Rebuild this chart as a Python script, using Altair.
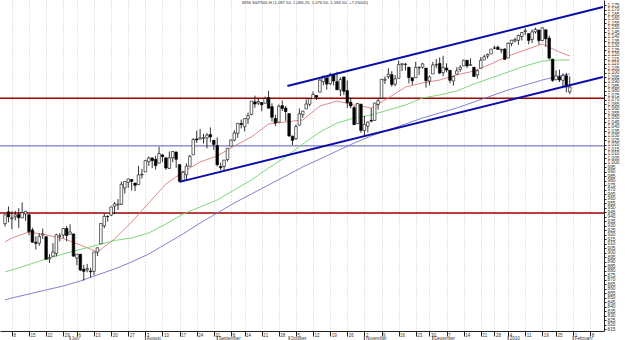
import json
import altair as alt
import pandas as pd

title_text = "MINI S&P500-H (1,087.50, 1,096.25, 1,076.50, 1,084.50, +7.25000)"

# daily candles, trading-day index -2 .. 163 (4 Jun 2009 .. 29 Jan 2010)
opens = [932.5, 945.7,
         938.1, 940.3, 942.7, 939.0, 943.4,
         942.5, 925.6, 911.9, 910.9, 920.0,
         918.1, 893.5, 896.3, 899.5, 918.8,
         919.9, 927.2, 920.8, 921.2,
         894.3, 898.6, 881.9, 881.3, 880.0,
         879.6, 900.8, 910.2, 930.2, 940.6,
         942.1, 952.0, 953.4, 954.1, 972.2,
         978.6, 981.5, 977.7, 976.0, 986.8,
         990.2, 1001.4, 1005.4, 1004.1, 999.8,
         1008.9, 1005.8, 994.0, 1005.9, 1012.2,
         998.2, 980.6, 986.9, 996.4, 1009.1,
         1026.6, 1026.6, 1027.4, 1027.8, 1031.6,
         1025.2, 1019.5, 996.1, 996.1, 1003.8,
         1018.7, 1025.4, 1033.0, 1043.9,
         1040.2, 1049.0, 1054.0, 1067.9, 1066.6,
         1067.1, 1066.4, 1072.7, 1062.6, 1049.5,
         1045.4, 1063.7, 1061.0, 1054.9, 1029.7,
         1026.9, 1042.0, 1053.7, 1060.0, 1065.3,
         1071.6, 1075.0, 1078.7, 1090.4, 1094.7,
         1088.2, 1098.6, 1090.4, 1081.0, 1095.6,
         1080.4, 1067.5, 1061.5, 1043.7, 1065.4,
         1036.2, 1040.9, 1047.3, 1047.3, 1065.0,
         1072.3, 1091.9, 1096.0, 1098.3, 1087.6,
         1094.1, 1109.2, 1109.4, 1106.4, 1094.7,
         1094.9, 1105.8, 1106.5, 1105.5,
         1091.1, 1098.9, 1109.0, 1110.6, 1100.4,
         1105.5, 1103.0, 1091.1, 1098.7, 1104.0,
         1107.8, 1114.1, 1108.6, 1106.4, 1097.9,
         1105.3, 1114.5, 1118.8, 1121.1,
         1127.5, 1128.6, 1125.5, 1126.6,
         1116.6, 1132.7, 1135.7, 1136.3, 1140.5,
         1146.0, 1143.8, 1137.3, 1145.7, 1147.7,
         1136.0, 1148.0, 1138.7, 1115.5,
         1092.4, 1095.8, 1091.9, 1096.9, 1079.0]
highs = [942.5, 951.7,
         946.3, 946.9, 949.8, 956.2, 946.3,
         942.5, 928.0, 918.4, 921.9, 927.1,
         918.1, 898.7, 910.9, 921.4, 922.0,
         928.0, 930.0, 931.9, 921.2,
         898.7, 898.6, 886.8, 887.9, 883.6,
         901.1, 905.8, 933.0, 944.0, 941.9,
         951.6, 956.5, 959.8, 979.4, 979.8,
         982.5, 982.3, 977.8, 996.7, 993.2,
         1003.6, 1007.1, 1006.6, 1008.0, 1018.0,
         1010.1, 1005.8, 1012.8, 1013.1, 1012.6,
         998.2, 991.2, 999.6, 1008.9, 1027.6,
         1035.8, 1037.8, 1032.5, 1033.3, 1039.5,
         1025.2, 1028.5, 1000.3, 1003.4, 1016.5,
         1026.1, 1036.3, 1044.1, 1048.2,
         1049.7, 1056.0, 1068.8, 1074.8, 1071.5,
         1067.3, 1073.8, 1080.2, 1066.3, 1053.5,
         1065.1, 1069.6, 1063.4, 1054.9, 1030.6,
         1042.6, 1060.6, 1058.0, 1070.7, 1071.5,
         1079.5, 1075.3, 1093.2, 1096.6, 1094.7,
         1100.2, 1098.6, 1101.4, 1095.2, 1095.8,
         1091.8, 1072.5, 1063.3, 1066.8, 1065.4,
         1052.2, 1046.4, 1061.0, 1066.7, 1071.5,
         1093.2, 1096.1, 1105.4, 1102.0, 1097.6,
         1113.7, 1110.5, 1111.1, 1106.4, 1094.7,
         1112.4, 1107.6, 1111.2, 1105.5,
         1097.2, 1112.3, 1115.6, 1117.3, 1119.1,
         1110.7, 1103.0, 1097.0, 1106.3, 1108.5,
         1114.8, 1114.1, 1116.2, 1106.4, 1103.7,
         1117.7, 1120.3, 1121.6, 1126.5,
         1130.4, 1130.4, 1126.4, 1127.6,
         1133.9, 1136.6, 1139.2, 1142.5, 1145.4,
         1149.7, 1143.8, 1148.4, 1150.4, 1147.8,
         1150.5, 1148.0, 1141.6, 1115.5,
         1103.0, 1103.7, 1099.5, 1100.2, 1096.25]
lows = [929.3, 934.1,
        926.4, 936.2, 927.9, 939.0, 935.7,
        919.7, 911.6, 903.8, 907.9, 915.8,
        893.0, 888.9, 896.3, 896.3, 913.0,
        916.2, 912.9, 920.8, 896.4,
        886.4, 879.9, 869.3, 878.5, 872.8,
        875.3, 896.5, 910.2, 927.5, 934.9,
        941.0, 943.2, 947.8, 953.3, 966.0,
        972.3, 969.4, 968.7, 976.0, 982.8,
        990.2, 996.7, 994.3, 992.5, 999.8,
        1001.0, 992.4, 993.4, 1000.8, 994.6,
        978.5, 980.6, 980.6, 996.4, 1009.1,
        1022.5, 1026.2, 1021.6, 1016.2, 1023.1,
        1014.6, 996.3, 992.0, 992.3, 1001.7,
        1018.7, 1024.0, 1028.0, 1038.4,
        1035.0, 1043.4, 1052.9, 1061.2, 1064.3,
        1057.5, 1066.4, 1060.4, 1045.9, 1041.2,
        1045.4, 1057.8, 1046.5, 1029.4, 1020.0,
        1025.9, 1042.0, 1050.1, 1060.0, 1063.0,
        1071.6, 1070.0, 1078.7, 1086.4, 1081.5,
        1086.5, 1086.2, 1080.8, 1074.3, 1075.5,
        1061.1, 1060.6, 1042.2, 1043.7, 1033.4,
        1029.4, 1033.9, 1045.2, 1047.3, 1059.3,
        1072.3, 1087.8, 1093.5, 1084.9, 1085.3,
        1094.1, 1102.2, 1102.7, 1088.4, 1086.8,
        1094.9, 1097.6, 1104.8, 1083.7,
        1086.3, 1098.9, 1105.3, 1098.7, 1096.5,
        1100.8, 1088.6, 1085.9, 1098.7, 1101.3,
        1107.8, 1105.4, 1108.0, 1095.9, 1093.9,
        1105.3, 1114.5, 1116.0, 1121.1,
        1126.5, 1126.1, 1121.9, 1114.8,
        1116.6, 1129.7, 1134.0, 1131.3, 1136.2,
        1142.0, 1131.8, 1133.2, 1143.8, 1131.4,
        1135.3, 1129.3, 1114.8, 1090.2,
        1092.4, 1089.9, 1083.1, 1078.5, 1076.5]
closes = [942.5, 940.1,
          939.1, 942.4, 939.1, 944.9, 946.2,
          923.7, 912.0, 910.7, 918.4, 921.2,
          893.0, 895.1, 900.9, 920.3, 918.9,
          927.2, 919.3, 923.3, 896.4,
          898.7, 881.0, 879.6, 882.7, 879.1,
          901.1, 905.8, 932.7, 940.7, 940.4,
          951.1, 954.6, 954.1, 976.3, 979.3,
          982.2, 979.6, 975.2, 986.8, 987.5,
          1002.6, 1005.7, 1002.7, 997.1, 1010.5,
          1007.1, 994.4, 1005.8, 1012.7, 1004.1,
          979.7, 989.7, 996.5, 1007.4, 1026.1,
          1025.6, 1028.0, 1028.1, 1031.0, 1028.9,
          1020.6, 998.0, 994.8, 1003.2, 1016.4,
          1025.4, 1033.4, 1044.1, 1042.7,
          1049.3, 1052.6, 1068.8, 1065.5, 1068.3,
          1064.7, 1071.7, 1060.9, 1050.8, 1044.4,
          1063.0, 1060.6, 1057.1, 1029.9, 1025.2,
          1040.5, 1054.7, 1057.6, 1065.5, 1071.5,
          1076.2, 1073.2, 1092.0, 1096.6, 1087.7,
          1097.9, 1091.1, 1081.4, 1092.9, 1079.6,
          1067.0, 1063.4, 1042.6, 1066.1, 1036.2,
          1042.9, 1045.4, 1046.5, 1066.6, 1069.3,
          1093.1, 1093.0, 1098.5, 1087.2, 1093.5,
          1109.3, 1110.3, 1109.8, 1094.9, 1091.4,
          1106.2, 1105.7, 1110.1, 1091.5,
          1095.6, 1108.9, 1109.2, 1099.9, 1106.0,
          1103.3, 1091.9, 1096.0, 1102.4, 1106.4,
          1114.1, 1107.9, 1109.2, 1096.1, 1102.5,
          1114.1, 1118.0, 1120.6, 1126.5,
          1127.8, 1126.2, 1126.4, 1115.1,
          1133.0, 1136.5, 1137.1, 1141.7, 1145.0,
          1147.0, 1136.2, 1145.7, 1148.5, 1136.0,
          1150.2, 1138.0, 1116.5, 1091.8,
          1096.8, 1092.2, 1097.5, 1084.5, 1084.5]
day_index = list(range(-2, 164))

ma_index = [-2, 0, 5, 10, 15, 20, 25, 30, 35, 40, 45, 50, 55, 60, 65, 70, 75, 80, 85,
            90, 95, 100, 105, 110, 115, 120, 125, 130, 135, 140, 145, 150, 155, 160, 163]
ma_red = [912.2, 916.7, 923.3, 920.0, 916.1, 908.9, 901.1, 915.6, 934.4, 955.6, 976.7,
          990.0, 1001.1, 1007.8, 1018.9, 1028.9, 1043.3, 1045.6, 1047.8, 1063.3, 1068.9,
          1064.4, 1061.1, 1072.2, 1084.4, 1088.9, 1092.2, 1097.8, 1102.2, 1110.0, 1118.9,
          1125.6, 1132.2, 1123.3, 1118.9]
ma_green = [878.9, 881.1, 887.2, 893.3, 898.9, 903.9, 908.9, 913.9, 916.7, 922.2, 932.2,
            943.3, 951.1, 958.9, 970.0, 981.1, 994.4, 1006.7, 1021.1, 1034.4, 1044.4,
            1050.0, 1053.3, 1058.9, 1064.4, 1072.2, 1075.6, 1080.0, 1087.8, 1094.4, 1101.1,
            1107.8, 1113.3, 1114.4, 1114.4]
ma_purple = [847.8, 850.0, 854.4, 858.9, 863.3, 868.9, 875.6, 882.2, 890.0, 898.9, 910.0,
             921.1, 933.3, 944.4, 955.6, 965.6, 975.6, 985.6, 995.6, 1004.4, 1013.3,
             1022.2, 1030.0, 1036.7, 1043.3, 1050.0, 1055.6, 1061.1, 1067.8, 1074.4, 1081.1,
             1086.7, 1092.2, 1096.7, 1098.9]

# drawn trend channel (endpoints) and horizontal levels
trend_index = [49, 172.7, 80.5, 172.7]
trend_price = [979.0, 1095.6, 1085.6, 1173.3]
trend_id = ["low", "low", "up", "up"]
level_price = [1072.0, 1019.0, 944.4]
level_color = ["#a00000", "#5a5ab8", "#a00000"]
level_width = [1.5, 1.0, 1.5]

# axis labels
week_index = [0, 5, 10, 15, 19, 24, 29, 34, 39, 44, 49, 54, 59, 64, 68, 73, 78, 83, 88, 93,
              98, 103, 108, 113, 118, 122, 127, 132, 137, 141, 145, 150, 155, 159, 164, 169]
week_labels = ["8", "15", "22", "29", "6", "13", "20", "27", "3", "10", "17", "24", "31", "8",
               "14", "21", "28", "5", "12", "19", "26", "2", "9", "16", "23", "30", "7", "14",
               "21", "28", "4", "11", "19", "25", "1", "8"]
month_index = [17, 39, 60, 81, 103, 123, 145, 164]
month_labels = ["July", "August", "September", "October", "November", "December", "2010",
                "February"]
price_ticks = list(range(815, 1180, 5))

FONT = "Liberation Sans"
W, H = 604, 331

candles = pd.DataFrame({"i": day_index, "open": opens, "high": highs, "low": lows, "close": closes})
ma = pd.concat([
    pd.DataFrame({"i": ma_index, "p": ma_red, "s": "a"}),
    pd.DataFrame({"i": ma_index, "p": ma_green, "s": "b"}),
    pd.DataFrame({"i": ma_index, "p": ma_purple, "s": "c"}),
])
trend = pd.DataFrame({"i": trend_index, "p": trend_price, "t": trend_id})
levels = pd.DataFrame({"p": level_price, "c": level_color, "w": level_width})
months = pd.DataFrame({"i": month_index, "label": month_labels})

xscale = alt.Scale(domain=[-2.011, 171.55], nice=False, zero=False)
yscale = alt.Scale(domain=[813.3, 1181.1], nice=False, zero=False)

label_expr = f"{json.dumps(week_labels)}[indexof({json.dumps(week_index)}, datum.value)]"
xaxis = alt.Axis(values=week_index, labelExpr=label_expr, grid=True, gridDash=[1, 2],
                 gridColor="#8c8c8c", gridOpacity=0.55, gridWidth=0.8, tickSize=5,
                 tickColor="#222", domainColor="#222", labelAlign="left", labelOffset=1,
                 labelPadding=-4, labelBaseline="top", labelFontSize=4.5, labelColor="#333",
                 labelFont=FONT, labelOverlap=False, labelFlush=False, title=None)
yaxis = alt.Axis(orient="right", values=price_ticks, labelFontSize=4.8, tickSize=2,
                 labelPadding=1, domainColor="#222", tickColor="#222", labelColor="#333",
                 labelFont=FONT, grid=False, title=None, labelOverlap=False, labelFlush=False)

X = alt.X("i:Q", scale=xscale, axis=xaxis)

level_layer = alt.Chart(levels).mark_rule().encode(
    y=alt.Y("p:Q", scale=yscale, axis=yaxis),
    color=alt.Color("c:N", scale=None),
    strokeWidth=alt.StrokeWidth("w:Q", scale=None),
)

ma_layer = alt.Chart(ma).mark_line(strokeWidth=0.9, clip=True).encode(
    x=X,
    y=alt.Y("p:Q", scale=yscale, axis=yaxis),
    color=alt.Color("s:N", scale=alt.Scale(domain=["a", "b", "c"],
                                           range=["#e07a7a", "#6fd16f", "#7474cc"]),
                    legend=None),
)

wick_layer = alt.Chart(candles).mark_rule(color="black", strokeWidth=0.8, clip=True).encode(
    x=X,
    y=alt.Y("low:Q", scale=yscale, axis=yaxis),
    y2="high:Q",
)

body_layer = alt.Chart(candles).mark_bar(size=2.6, stroke="black", strokeWidth=0.6,
                                         clip=True).encode(
    x=X,
    y=alt.Y("open:Q", scale=yscale, axis=yaxis),
    y2="close:Q",
    fill=alt.condition("datum.close >= datum.open", alt.value("white"), alt.value("black")),
)

trend_layer = alt.Chart(trend).mark_line(color="#0c0ca6", strokeWidth=2, clip=True).encode(
    x=X,
    y=alt.Y("p:Q", scale=yscale, axis=yaxis),
    detail="t:N",
)

month_sep = alt.Chart(months).mark_rule(color="#222", strokeWidth=0.8).encode(
    x=X, y=alt.value(H + 5), y2=alt.value(H + 9),
)
month_text = alt.Chart(months).mark_text(align="left", baseline="top", dx=1.5, fontSize=4.5,
                                         font=FONT, color="#333").encode(
    x=X, y=alt.value(H + 5), text="label:N",
)

chart = alt.layer(
    level_layer, ma_layer, wick_layer, body_layer, trend_layer, month_sep, month_text
).properties(
    width=W, height=H,
    title=alt.TitleParams(text=title_text, fontSize=4.2, font=FONT, fontWeight="normal",
                          color="#333", anchor="middle", offset=0, baseline="top", dy=5, dx=3),
    autosize=alt.AutoSizeParams(type="none"),
    padding={"left": 0, "top": 0, "right": 21, "bottom": 9},
    background="white",
).configure_view(stroke=None)

chart.save("out.html", embed_options={"renderer": "svg", "actions": False})
